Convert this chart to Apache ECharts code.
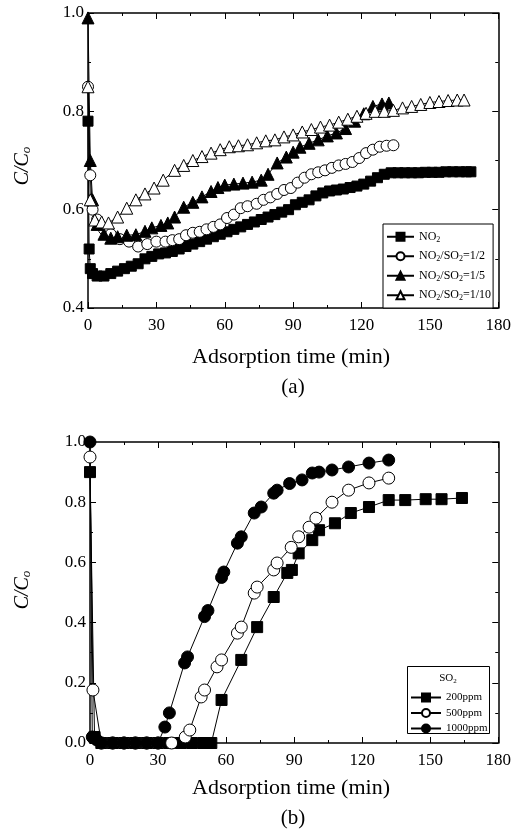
<!DOCTYPE html>
<html><head><meta charset="utf-8">
<script src="https://cdn.jsdelivr.net/npm/echarts@6/dist/echarts.min.js"></script>
<style>html,body{margin:0;padding:0;background:#fff}#c{width:514px;height:832px}</style>
</head><body><div id="c"></div>
<script>
// ---- Data (a) ----
const xTicks = [0, 30, 60, 90, 120, 150, 180];
const seriesA_names = ['NO2', 'NO2/SO2=1/2', 'NO2/SO2=1/5', 'NO2/SO2=1/10'];
const a_NO2 = [[0,0.78],[0.5,0.52],[1,0.48],[2,0.47],[4,0.465],[7,0.465],[10,0.47],[13,0.475],[16,0.48],[19,0.485],[22,0.49],[25,0.5],[28,0.505],[31,0.51],[34,0.512],[37,0.515],[40,0.52],[43,0.525],[46,0.53],[49,0.535],[52,0.54],[55,0.545],[58,0.55],[61,0.555],[64,0.56],[67,0.565],[70,0.57],[73,0.575],[76,0.58],[79,0.585],[82,0.59],[85,0.595],[88,0.6],[91,0.61],[94,0.615],[97,0.62],[100,0.628],[103,0.634],[106,0.638],[109,0.64],[112,0.642],[115,0.645],[118,0.648],[121,0.652],[124,0.658],[127,0.665],[130,0.672],[133,0.675],[136,0.675],[139,0.675],[142,0.675],[145,0.675],[148,0.676],[151,0.676],[154,0.676],[157,0.677],[160,0.677],[163,0.677],[166,0.677],[168,0.677]];
const a_r12 = [[0,0.85],[1,0.67],[2,0.6],[4,0.58],[7,0.56],[10,0.55],[14,0.54],[18,0.535],[22,0.525],[26,0.53],[30,0.535],[34,0.535],[37,0.538],[40,0.54],[43,0.548],[46,0.553],[49,0.555],[52,0.56],[55,0.565],[58,0.57],[61,0.583],[64,0.59],[67,0.603],[70,0.607],[74,0.612],[77,0.62],[80,0.625],[83,0.632],[86,0.64],[89,0.644],[92,0.655],[95,0.665],[98,0.672],[101,0.676],[104,0.68],[107,0.685],[110,0.69],[113,0.693],[116,0.697],[119,0.705],[122,0.715],[125,0.722],[128,0.728],[131,0.73],[134,0.731]];
const a_r15 = [[0,0.99],[1,0.7],[2,0.62],[4,0.57],[7,0.55],[10,0.542],[13,0.545],[17,0.548],[21,0.549],[25,0.556],[28,0.563],[32,0.568],[35,0.573],[38,0.585],[42,0.605],[46,0.615],[50,0.626],[54,0.637],[57,0.645],[60,0.65],[64,0.652],[68,0.654],[72,0.656],[76,0.66],[79,0.672],[83,0.695],[87,0.707],[90,0.717],[93,0.727],[97,0.735],[101,0.742],[105,0.75],[109,0.756],[113,0.765],[117,0.78],[121,0.795],[125,0.81],[129,0.815],[132,0.817]];
const a_r110 = [[0,0.85],[1,0.62],[3,0.579],[6,0.575],[9,0.573],[13,0.585],[17,0.603],[21,0.62],[25,0.632],[29,0.644],[33,0.66],[38,0.68],[42,0.69],[46,0.7],[50,0.708],[54,0.715],[58,0.722],[62,0.728],[66,0.73],[70,0.732],[74,0.736],[78,0.74],[82,0.742],[86,0.748],[90,0.752],[94,0.758],[98,0.763],[102,0.768],[106,0.772],[110,0.778],[114,0.784],[118,0.79],[122,0.796],[126,0.8],[130,0.8],[134,0.802],[138,0.807],[142,0.81],[146,0.814],[150,0.818],[154,0.82],[158,0.822],[162,0.823],[165,0.823]];
// ---- Data (b) ----
const seriesB_names = ['200ppm', '500ppm', '1000ppm'];
const b_200 = [[0,0.9],[2,0.02],[5,0],[10,0],[15,0],[20,0],[25,0],[30,0],[35,0],[40,0],[45,0],[50,0],[53.5,0],[58,0.143],[66.7,0.276],[73.7,0.385],[81,0.485],[87,0.565],[89,0.575],[92,0.63],[98,0.674],[101,0.707],[108,0.73],[115,0.764],[123,0.784],[131.7,0.807],[139,0.807],[148,0.81],[155,0.81],[164,0.814]];
const b_500 = [[0,0.95],[1.3,0.176],[5,0],[10,0],[15,0],[20,0],[25,0],[30,0],[36,0],[42,0.02],[44,0.043],[49,0.153],[50.5,0.176],[56,0.253],[58,0.276],[65,0.365],[66.7,0.385],[72.4,0.498],[73.7,0.518],[81,0.575],[82.5,0.598],[88.7,0.65],[92,0.685],[96.6,0.717],[99.6,0.747],[106.7,0.8],[114,0.84],[123,0.864],[131.7,0.88]];
const b_1000 = [[0,1.0],[1,0.02],[3,0.01],[5,0],[10,0],[15,0],[20,0],[25,0],[30,0],[33,0.053],[35,0.1],[41.7,0.266],[43,0.286],[50.5,0.42],[52,0.44],[58,0.55],[59,0.568],[65,0.664],[66.7,0.685],[72.4,0.764],[75.5,0.784],[81,0.83],[82.5,0.84],[88,0.862],[93.5,0.874],[98,0.897],[101,0.9],[106.7,0.907],[114,0.917],[123,0.93],[131.7,0.94]];

const FONT = 'Liberation Serif';
const chart = echarts.init(document.getElementById('c'), null, {renderer:'canvas'});

function xAxes(gi){
  return [
    {gridIndex:gi, type:'value', min:0, max:180, interval:30, position:'bottom',
     axisLine:{show:true, onZero:false, lineStyle:{color:'#000', width:1.5}},
     axisTick:{show:true, inside:true, length:6, lineStyle:{color:'#000'}},
     minorTick:{show:true, splitNumber:2, length:3, lineStyle:{color:'#000'}},
     axisLabel:{color:'#000', fontFamily:FONT, fontSize:17, margin:9},
     splitLine:{show:false}},
    {gridIndex:gi, type:'value', min:0, max:180, interval:30, position:'top',
     axisLine:{show:true, onZero:false, lineStyle:{color:'#000', width:1.5}},
     axisTick:{show:true, inside:true, length:6, lineStyle:{color:'#000'}},
     minorTick:{show:true, splitNumber:2, length:3, lineStyle:{color:'#000'}},
     axisLabel:{show:false}, splitLine:{show:false}}
  ];
}
function yAxes(gi, mn){
  return [
    {gridIndex:gi, type:'value', min:mn, max:1.0, interval:0.2, position:'left',
     axisLine:{show:true, onZero:false, lineStyle:{color:'#000', width:1.5}},
     axisTick:{show:true, inside:true, length:6, lineStyle:{color:'#000'}},
     minorTick:{show:true, splitNumber:2, length:3, lineStyle:{color:'#000'}},
     axisLabel:{color:'#000', fontFamily:FONT, fontSize:17, margin:4, formatter:v=>v.toFixed(1)},
     splitLine:{show:false}},
    {gridIndex:gi, type:'value', min:mn, max:1.0, interval:0.2, position:'right',
     axisLine:{show:true, onZero:false, lineStyle:{color:'#000', width:1.5}},
     axisTick:{show:true, inside:true, length:6, lineStyle:{color:'#000'}},
     minorTick:{show:true, splitNumber:2, length:3, lineStyle:{color:'#000'}},
     axisLabel:{show:false}, splitLine:{show:false}}
  ];
}
function mk(name, data, xi, yi, symbol, filled, size){
  return {name, type:'line', xAxisIndex:xi, yAxisIndex:yi, data, symbol, symbolSize:size,
    showAllSymbol:true, animation:false,
    lineStyle:{color:'#000', width:1},
    itemStyle:{color: filled ? '#000' : '#fff', borderColor:'#000', borderWidth:1},
    emphasis:{disabled:true}};
}
function richFor(sz){
  return {n:{fontFamily:FONT, fontSize:sz, color:'#000'}, s:{fontFamily:FONT, fontSize:Math.round(sz*0.65), color:'#000', padding:[Math.round(sz*0.5),0,0,0]}};
}
function fmtLegend(name){
  const parts = name.split(/(NO2|SO2)/).filter(p=>p.length);
  return parts.map(p => (p==='NO2'||p==='SO2') ? '{n|'+p.slice(0,2)+'}{s|2}' : '{n|'+p+'}').join('');
}

const titleRich = {a:{fontFamily:FONT, fontStyle:'italic', fontSize:20, color:'#000'}, b:{fontFamily:FONT, fontStyle:'italic', fontSize:13, color:'#000', padding:[8,0,0,0]}};

const option = {
  backgroundColor:'#fff',
  animation:false,
  grid:[
    {left:88, top:13, width:411, height:295},
    {left:90, top:442, width:410, height:301}
  ],
  xAxis:[...xAxes(0), ...xAxes(1)],
  yAxis:[...yAxes(0, 0.4), ...yAxes(1, 0.0)],
  legend:[
    {data:seriesA_names, orient:'vertical', left:383, top:224, itemWidth:27, itemHeight:10, itemGap:4,
     borderColor:'#000', borderWidth:1, padding:[5,2,5,3], backgroundColor:'#fff',
     formatter: fmtLegend, textStyle:{rich:richFor(12), color:'#000', height:15.5, lineHeight:15.5}, selectedMode:false},
    {data:seriesB_names, orient:'vertical', left:410, top:692, itemWidth:30, itemHeight:10, itemGap:4.5,
     padding:[0,0,0,0], formatter:n=>'{n|'+n+'}', textStyle:{rich:richFor(11), color:'#000'}, selectedMode:false, z:60}
  ],
  graphic:[
    {type:'rect', shape:{x:407.5, y:666.5, width:82, height:67}, style:{fill:'#fff', stroke:'#000', lineWidth:1}, z:50},
    {type:'text', x:448, y:678, z:51, style:{text:'{n|SO}{s|2}', rich:richFor(11), align:'center', verticalAlign:'middle'}},
    {type:'text', x:23, y:166, rotation:Math.PI/2, style:{text:'{a|C/C}{b|o}', align:'center', verticalAlign:'middle', rich:titleRich}},
    {type:'text', x:23, y:590, rotation:Math.PI/2, style:{text:'{a|C/C}{b|o}', align:'center', verticalAlign:'middle', rich:titleRich}},
    {type:'text', x:291, y:357, style:{text:'Adsorption time (min)', fontFamily:FONT, fontSize:22, fill:'#000', align:'center', verticalAlign:'middle'}},
    {type:'text', x:293, y:387, style:{text:'(a)', fontFamily:FONT, fontSize:21, fill:'#000', align:'center', verticalAlign:'middle'}},
    {type:'text', x:291, y:788, style:{text:'Adsorption time (min)', fontFamily:FONT, fontSize:22, fill:'#000', align:'center', verticalAlign:'middle'}},
    {type:'text', x:293, y:818, style:{text:'(b)', fontFamily:FONT, fontSize:21, fill:'#000', align:'center', verticalAlign:'middle'}}
  ],
  series:[
    mk('NO2', a_NO2, 0, 0, 'rect', true, 10),
    mk('NO2/SO2=1/2', a_r12, 0, 0, 'circle', false, 11),
    mk('NO2/SO2=1/5', a_r15, 0, 0, 'triangle', true, 12),
    mk('NO2/SO2=1/10', a_r110, 0, 0, 'triangle', false, 12),
    mk('200ppm', b_200, 2, 2, 'rect', true, 11),
    mk('500ppm', b_500, 2, 2, 'circle', false, 12),
    mk('1000ppm', b_1000, 2, 2, 'circle', true, 12)
  ]
};
chart.setOption(option);
</script></body></html>
